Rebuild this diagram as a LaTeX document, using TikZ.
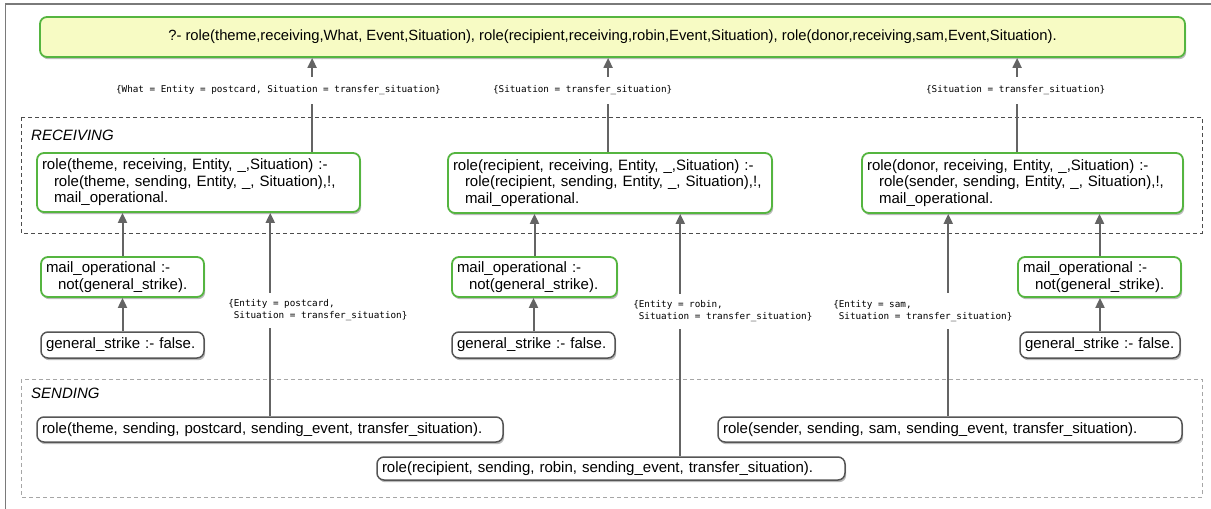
\documentclass[tikz,border=0pt]{standalone}
\usepackage{fontspec}
\setmainfont{Liberation Sans}
\newfontfamily\monofont{DejaVu Sans Mono}
\usetikzlibrary{arrows.meta,shadows,calc}
\definecolor{boxgreen}{HTML}{55B540}
\definecolor{qyellow}{HTML}{F7FBC4}
\definecolor{linegray}{HTML}{646464}
\definecolor{framegray}{HTML}{7A7A7A}
\definecolor{boxgray}{HTML}{555555}
\begin{document}
\begin{tikzpicture}[x=1pt,y=-1pt,
  every node/.style={inner sep=0pt},
  base/.style={rounded corners=7pt, line width=1.8pt, align=left,
    font=\fontsize{15}{16.5}\selectfont, inner xsep=5pt,
    drop shadow={shadow xshift=1.2pt, shadow yshift=-2.2pt, opacity=.45, fill=black!60}},
  gbox/.style={base, draw=boxgreen, fill=white},
  qbox/.style={base, draw=boxgreen, fill=qyellow, align=center, font=\fontsize{14.8}{16.5}\selectfont},
  fbox/.style={base, draw=boxgray, fill=white, line width=1.5pt},
  arr/.style={draw=linegray, line width=2pt, -{Triangle[length=10pt,width=9pt]}},
  lbl/.style={font=\monofont\fontsize{9.3}{12}\selectfont, fill=white, align=left,
    anchor=west, inner xsep=1pt, inner ysep=9pt},
  blbl/.style={lbl, inner ysep=7pt},
  region/.style={dashed, dash pattern=on 4pt off 3pt, line width=1pt},
  regtitle/.style={font=\itshape\fontsize{15}{16}\selectfont, anchor=west}
]
\useasboundingbox (0,0) rectangle (1211,509);
\fill[white] (0,0) rectangle (1211,509);
\draw[framegray, line width=1.5pt] (5.5,509) -- (5.5,4) -- (1211,4);

% regions
\draw[region, draw=black!70] (21,117) rectangle (1202,233);
\draw[region, draw=black!35] (21,379) rectangle (1202,497);
\node[regtitle] (rt) at (31,135) {RECEIVING};
\node[regtitle] (st) at (31,393) {SENDING};

% query
\node[qbox, minimum width=1145pt, minimum height=40pt] (top) at (612.5,37)
  {?- role(theme,receiving,What, Event,Situation), role(recipient,receiving,robin,Event,Situation), role(donor,receiving,sam,Event,Situation).};

% receiving rules
\node[gbox, text width=313pt, minimum height=59pt] (r1) at (198.5,182.5)
  {role(theme, receiving, Entity, \_,Situation) :-\\
   \hspace*{12pt}role(theme, sending, Entity, \_, Situation),!,\\
   \hspace*{12pt}mail\_operational.};
\node[gbox, text width=314pt, minimum height=60pt] (r2) at (610,183)
  {role(recipient, receiving, Entity, \_,Situation) :-\\
   \hspace*{12pt}role(recipient, sending, Entity, \_, Situation),!,\\
   \hspace*{12pt}mail\_operational.};
\node[gbox, text width=311pt, minimum height=60pt] (r3) at (1022.5,183)
  {role(donor, receiving, Entity, \_,Situation) :-\\
   \hspace*{12pt}role(sender, sending, Entity, \_, Situation),!,\\
   \hspace*{12pt}mail\_operational.};

% mail_operational
\node[gbox, text width=153pt, minimum height=40pt] (m1) at (122.5,277)
  {mail\_operational :-\\\hspace*{12pt}not(general\_strike).};
\node[gbox, text width=155pt, minimum height=40pt] (m2) at (534.5,277)
  {mail\_operational :-\\\hspace*{12pt}not(general\_strike).};
\node[gbox, text width=153pt, minimum height=40pt] (m3) at (1099.5,277)
  {mail\_operational :-\\\hspace*{12pt}not(general\_strike).};

% general_strike
\node[fbox, text width=153pt, minimum height=26pt] (g1) at (122.5,345) {general\_strike :- false.};
\node[fbox, text width=153pt, minimum height=26pt] (g2) at (533.5,345) {general\_strike :- false.};
\node[fbox, text width=150pt, minimum height=26pt] (g3) at (1100,345) {general\_strike :- false.};

% sending facts
\node[fbox, text width=456pt, minimum height=25pt] (s1) at (270,429.5)
  {role(theme, sending, postcard, sending\_event, transfer\_situation).};
\node[fbox, text width=458pt, minimum height=23pt] (s2) at (611,468.5)
  {role(recipient, sending, robin, sending\_event, transfer\_situation).};
\node[fbox, text width=454pt, minimum height=25pt] (s3) at (950,429.5)
  {role(sender, sending, sam, sending\_event, transfer\_situation).};

% connectors: receiving rules -> query
\coordinate (u1) at ($(r1.north west)+(276,0)$);
\coordinate (u2) at ($(r2.north west)+(161,0)$);
\coordinate (u3) at ($(r3.north west)+(156,0)$);
\draw[arr] (u1) -- node[lbl, pos=.656, xshift=-198pt]
  {\{What = Entity = postcard, Situation = transfer\_situation\}} (u1 |- top.south);
\draw[arr] (u2) -- node[lbl, pos=.656, xshift=-117pt]
  {\{Situation = transfer\_situation\}} (u2 |- top.south);
\draw[arr] (u3) -- node[lbl, pos=.656, xshift=-93pt]
  {\{Situation = transfer\_situation\}} (u3 |- top.south);

% mail_operational -> rules, general_strike -> mail_operational
\draw[arr] (m1.north) -- (m1.north |- r1.south);
\draw[arr] (m2.north) -- (m2.north |- r2.south);
\draw[arr] (m3.north) -- (m3.north |- r3.south);
\draw[arr] (g1.north) -- (g1.north |- m1.south);
\draw[arr] (g2.north) -- (g2.north |- m2.south);
\draw[arr] (g3.north) -- (g3.north |- m3.south);

% sending facts -> receiving rules
\coordinate (d1) at ($(s1.north west)+(234,0)$);
\coordinate (d2) at ($(s2.north west)+(304,0)$);
\coordinate (d3) at ($(s3.north west)+(231,0)$);
\draw[arr] (d1) -- node[blbl, pos=.52, xshift=-44pt]
  {\{Entity = postcard,\\\hspace*{5.6pt}Situation = transfer\_situation\}} (d1 |- r1.south);
\draw[arr] (d2) -- node[blbl, pos=.598, xshift=-49pt]
  {\{Entity = robin,\\\hspace*{5.6pt}Situation = transfer\_situation\}} (d2 |- r2.south);
\draw[arr] (d3) -- node[blbl, pos=.52, xshift=-117pt]
  {\{Entity = sam,\\\hspace*{5.6pt}Situation = transfer\_situation\}} (d3 |- r3.south);
\end{tikzpicture}
\end{document}
